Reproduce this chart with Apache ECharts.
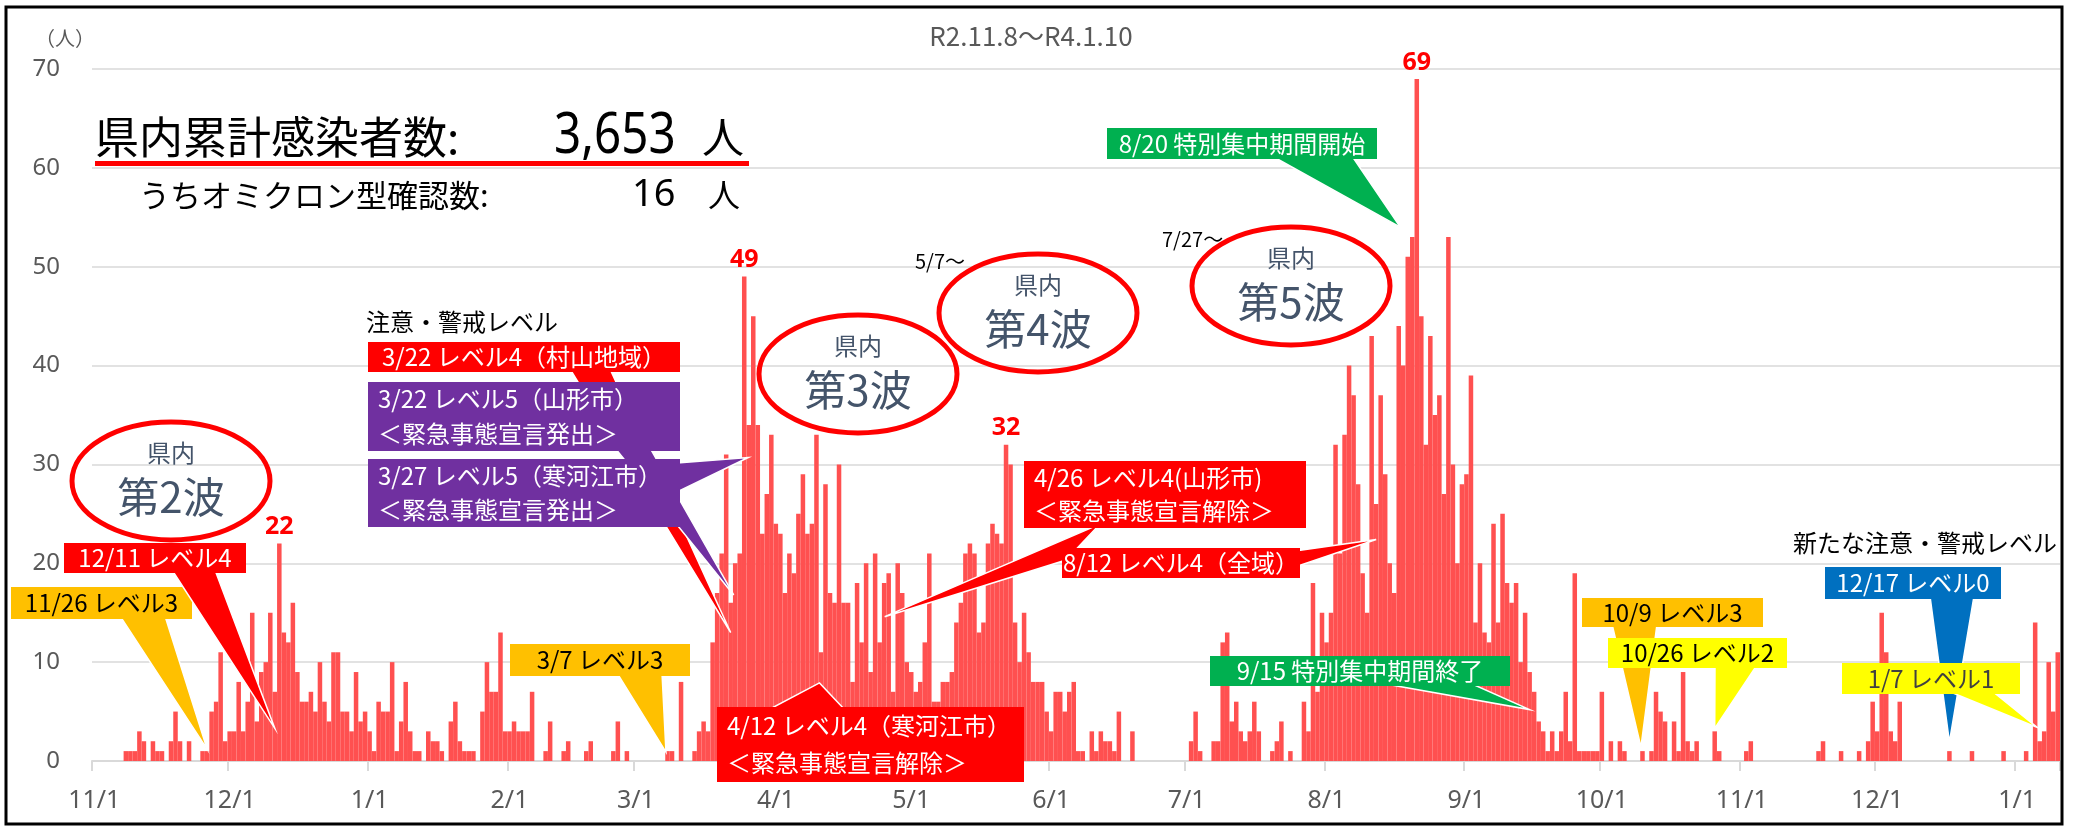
<!DOCTYPE html>
<html><head><meta charset="utf-8">
<script src="https://cdn.jsdelivr.net/npm/echarts@6/dist/echarts.min.js"></script>
<style>html,body{margin:0;padding:0;background:#fff}#c{width:2078px;height:827px}</style>
</head><body><div id="c"></div>
<script>
// daily new cases, by month
const nov20 = [0,0,0,0,0,0,0,1,1,1,3,2,0,2,1,1,0,2,5,2,0,2,0,0,1,1,5,6,11,2];
const dec20 = [3,3,8,3,6,15,4,9,10,15,7,22,13,12,16,9,6,6,7,5,10,6,4,11,11,5,5,3,9,4,5];
const jan21 = [3,1,6,5,5,10,1,4,8,3,1,1,0,3,2,2,1,0,4,6,2,1,1,1,0,5,10,7,7,13,3];
const feb21 = [3,4,3,3,3,7,0,0,1,4,0,0,1,2,0,0,0,1,2,0,0,0,0,1,4,0,1,0];
const mar21 = [0,0,0,0,0,0,0,1,1,0,8,0,0,1,3,4,3,12,17,21,31,16,20,21,49,34,45,34,23,27,33];
const apr21 = [24,23,17,21,19,25,29,23,24,33,11,28,17,16,30,16,16,8,18,12,20,9,21,12,18,19,7,20,17,10];
const may21 = [9,7,8,12,21,6,6,8,8,9,14,16,21,22,21,13,14,22,24,23,22,32,30,14,10,15,11,8,8,8,5];
const jun21 = [3,7,7,5,7,8,1,1,0,3,1,3,2,2,1,5,0,0,3,0,0,0,0,0,0,0,0,0,0,0];
const jul21 = [0,2,5,1,0,0,2,2,12,13,4,6,3,2,3,6,3,0,0,1,2,4,0,1,0,0,6,3,18,7,15];
const aug21 = [12,15,32,21,33,40,37,28,19,15,43,26,37,29,20,17,44,40,51,53,69,45,32,43,35,37,27,53,30,20,28];
const sep21 = [29,39,14,20,13,12,24,14,25,18,16,18,10,15,9,7,4,3,1,3,1,3,7,2,19,1,1,1,1,1];
const oct21 = [7,0,2,0,2,1,0,0,0,1,0,1,7,5,4,0,4,1,9,2,1,2,0,0,0,3,1,0,0,0,0];
const nov21 = [0,1,2,0,0,0,0,0,0,0,0,0,0,0,0,0,0,1,2,0,0,0,1,0,0,0,1,0,2,6];
const dec21 = [3,15,11,3,2,6,0,0,0,0,0,0,0,0,0,0,1,0,0,0,0,1,0,0,0,0,0,0,1,0,0];
const jan22 = [0,0,1,0,14,2,3,10,5,11];

const months = [[2020,11],[2020,12],[2021,1],[2021,2],[2021,3],[2021,4],[2021,5],[2021,6],[2021,7],[2021,8],[2021,9],[2021,10],[2021,11],[2021,12],[2022,1]];
const monthValues = [nov20,dec20,jan21,feb21,mar21,apr21,may21,jun21,jul21,aug21,sep21,oct21,nov21,dec21,jan22];
const peakDays = ['2020/12/12','2021/3/25','2021/5/22','2021/8/21'];
const yMin = 0, yMax = 70, yStep = 10;

const categories = [], values = [];
monthValues.forEach((arr, k) => {
  const [y, m] = months[k];
  arr.forEach((v, i) => { categories.push(y + '/' + m + '/' + (i + 1)); values.push(v); });
});

const JP = '"Noto Sans CJK JP", "Noto Sans", sans-serif';
const NARROW = '"Liberation Sans Narrow", "Noto Sans", sans-serif';
const isMonthStart = (idx, val) => String(val).split('/')[2] === '1';

const chart = echarts.init(document.getElementById('c'), null, {renderer: 'canvas'});
chart.setOption({
  animation: false,
  backgroundColor: '#fff',
  grid: {left: 92, right: 18, top: 69, bottom: 66},
  xAxis: {
    type: 'category', data: categories, boundaryGap: true,
    axisLine: {lineStyle: {color: '#D9D9D9', width: 2}},
    axisTick: {show: true, interval: isMonthStart, length: 10, lineStyle: {color: '#D9D9D9', width: 2}},
    axisLabel: {interval: isMonthStart, formatter: v => v.split('/').slice(1).join('/'),
      fontSize: 25, color: '#595959', margin: 27, fontFamily: '"Noto Sans", sans-serif'}
  },
  yAxis: {
    type: 'value', min: yMin, max: yMax, interval: yStep,
    axisLine: {show: false}, axisTick: {show: false},
    splitLine: {lineStyle: {color: '#D9D9D9', width: 1.5}},
    axisLabel: {fontSize: 24, color: '#595959', margin: 32, fontFamily: '"Noto Sans", sans-serif'}
  },
  series: [{
    type: 'bar', barCategoryGap: '0%',
    itemStyle: {color: '#FF5050'},
    data: values.map((v, i) => peakDays.includes(categories[i]) ? {
      value: v,
      label: {show: true, position: 'top', distance: 4, color: '#FF0000', fontWeight: 'bold', fontSize: 25, fontFamily: NARROW}
    } : v)
  }]
});

function tip(date, v, dx) {
  const p = chart.convertToPixel({seriesIndex: 0}, [date, v]);
  return [p[0] + (dx || 0), p[1]];
}

const G = [];
function txt(x, y, text, font, fill, align, extra) {
  G.push(Object.assign({type: 'text', x: x, y: y, style: {text: text, font: font, fill: fill, textAlign: align || 'center', textVerticalAlign: 'middle'}}, extra || {}));
}
function ellipse(cx, cy, n) {
  G.push({type: 'ellipse', shape: {cx: cx, cy: cy, rx: 99, ry: 59}, style: {fill: 'rgba(255,255,255,0)', stroke: '#FF0000', lineWidth: 5}});
  txt(cx, cy - 28, '県内', '24px ' + JP, '#44546A');
  txt(cx, cy + 16, n, '42px ' + JP, '#44546A');
}
function callout(c) {
  const t = tip(c.date, c.v, c.dx);
  G.push({type: 'polygon', shape: {points: [c.base[0], c.base[1], t]}, style: {fill: c.fill, stroke: '#fff', lineWidth: 1.5}});
  const [bx, by, bw, bh] = c.box;
  G.push({type: 'rect', shape: {x: bx, y: by, width: bw, height: bh}, style: {fill: c.fill}});
  const n = c.text.length;
  c.text.forEach((s, i) => {
    const y = by + bh * (i + 0.5) / n;
    if (n > 1) txt(bx + 10, y, s, '24px ' + JP, c.color, 'left');
    else txt(bx + bw / 2, y, s, '24px ' + JP, c.color, 'center');
  });
}

// header texts
txt(1031, 36, 'R2.11.8～R4.1.10', '26px ' + JP, '#595959');
txt(65, 38, '（人）', '20px ' + JP, '#595959');
txt(95, 137, '県内累計感染者数:', '44px ' + JP, '#000', 'left');
txt(554, 137, '3,653', '56px "Noto Sans", sans-serif', '#000', 'left', {scaleX: 0.85});
txt(702, 137, '人', '42px ' + JP, '#000', 'left');
G.push({type: 'rect', shape: {x: 95, y: 161, width: 654, height: 5}, style: {fill: '#FF0000'}});
txt(139, 195, 'うちオミクロン型確認数:', '31px ' + JP, '#000', 'left');
txt(632, 195, '16', '38px "Noto Sans", sans-serif', '#000', 'left');
txt(708, 195, '人', '32px ' + JP, '#000', 'left');

// waves
ellipse(171, 481, '第2波');
ellipse(858, 374, '第3波');
ellipse(1038, 313, '第4波');
ellipse(1291, 286, '第5波');
txt(915, 261, '5/7～', '20px ' + JP, '#000', 'left');
txt(1162, 239, '7/27～', '20px ' + JP, '#000', 'left');
txt(366, 322, '注意・警戒レベル', '24px ' + JP, '#000', 'left');
txt(2057, 543, '新たな注意・警戒レベル', '24px ' + JP, '#000', 'right');

const W = '#fff', B = '#000';
[
  {date: '2020/11/26', v: 1.2, base: [[120,616],[165,616]], fill: '#FFC000', box: [11,587,181,32], text: ['11/26 レベル3'], color: B},
  {date: '2020/12/11', v: 3.3, base: [[172,570],[215,570]], fill: '#FF0000', box: [64,543,182,30], text: ['12/11 レベル4'], color: W},
  {date: '2021/3/7', v: 0.9, dx: 3, base: [[617,673],[662,673]], fill: '#FFC000', box: [510,644,180,32], text: ['3/7 レベル3'], color: B},
  {date: '2021/3/22', v: 13, base: [[570,369],[610,369]], fill: '#FF0000', box: [368,342,312,30], text: ['3/22 レベル4（村山地域）'], color: W},
  {date: '2021/3/22', v: 16.8, dx: 3, base: [[615,448],[650,448]], fill: '#7030A0', box: [368,382,312,69], text: ['3/22 レベル5（山形市）', '＜緊急事態宣言発出＞'], color: W},
  {date: '2021/3/27', v: 30.7, dx: -5, base: [[677,463],[677,492]], fill: '#7030A0', box: [368,459,312,68], text: ['3/27 レベル5（寒河江市）', '＜緊急事態宣言発出＞'], color: W},
  {date: '2021/4/12', v: 7.9, dx: -6, base: [[768,710],[845,710]], fill: '#FF0000', box: [717,707,307,75], text: ['4/12 レベル4（寒河江市）', '＜緊急事態宣言解除＞'], color: W},
  {date: '2021/4/26', v: 14.6, dx: -4, base: [[1100,524],[1066,560]], fill: '#FF0000', box: [1024,461,282,67], text: ['4/26 レベル4(山形市)', '＜緊急事態宣言解除＞'], color: W},
  {date: '2021/8/12', v: 22.4, base: [[1295,551],[1295,567]], fill: '#FF0000', box: [1062,548,238,30], text: ['8/12 レベル4（全域）'], color: W},
  {date: '2021/8/20', v: 54, dx: -12, base: [[1272,156],[1352,156]], fill: '#00B050', box: [1107,128,270,31], text: ['8/20 特別集中期間開始'], color: W},
  {date: '2021/9/15', v: 5.2, base: [[1380,683],[1470,683]], fill: '#00B050', box: [1210,656,300,30], text: ['9/15 特別集中期間終了'], color: W},
  {date: '2021/10/9', v: 1.4, dx: 3, base: [[1612,624],[1657,624]], fill: '#FFC000', box: [1582,598,181,29], text: ['10/9 レベル3'], color: B},
  {date: '2021/10/26', v: 3.3, base: [[1715,665],[1757,665]], fill: '#FFFF00', box: [1608,638,179,30], text: ['10/26 レベル2'], color: B},
  {date: '2021/12/17', v: 1.9, base: [[1930,596],[1974,596]], fill: '#0070C0', box: [1825,567,176,32], text: ['12/17 レベル0'], color: W},
  {date: '2022/1/7', v: 3.4, dx: -7, base: [[1948,691],[1992,691]], fill: '#FFFF00', box: [1842,663,178,31], text: ['1/7 レベル1'], color: '#404040'}
].forEach(callout);

// outer frame
G.push({type: 'rect', shape: {x: 6, y: 7, width: 2056, height: 817}, style: {fill: 'none', stroke: '#000', lineWidth: 3}});

G.forEach((g, i) => { g.z = 100; g.z2 = i; g.silent = true; });
chart.setOption({graphic: {elements: G}});
</script>
</body></html>
